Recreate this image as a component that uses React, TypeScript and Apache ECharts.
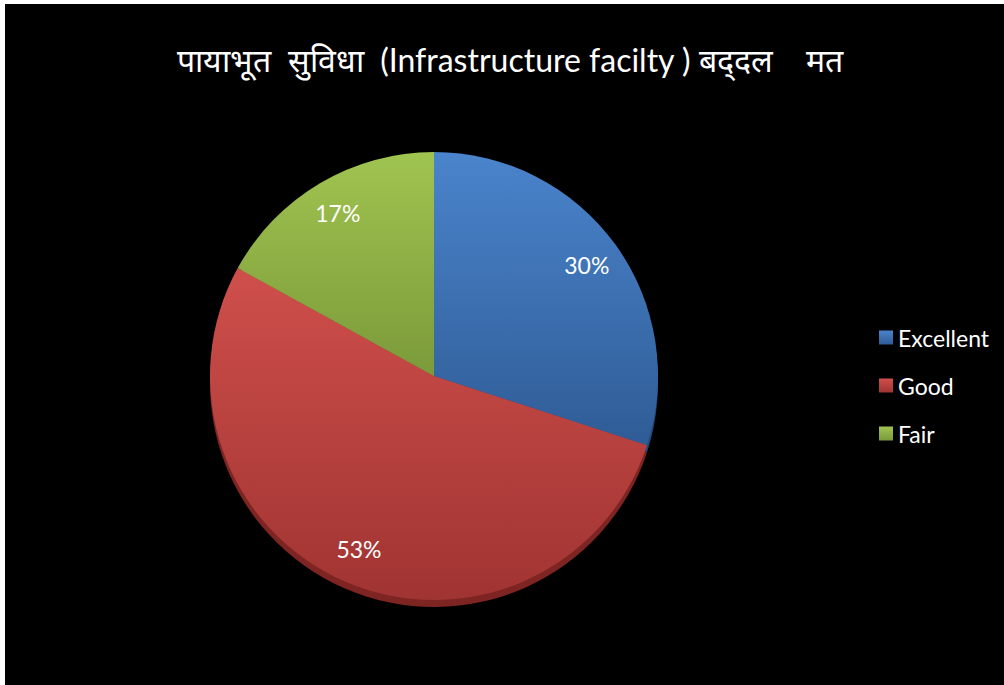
import React, { useEffect, useRef } from "react";
import * as echarts from "echarts";

const titleText = "पायाभूत  सुविधा  (Infrastructure facilty ) बद्\u200Cदल    मत";
const categories = ["Excellent", "Good", "Fair"];
const values = [30, 53, 17];
const topColors = ["#4a84cc", "#cf4f4b", "#a0c450"];
const bottomColors = ["#2f5c96", "#a03432", "#7b9a3a"];
const edgeColors = ["#24487a", "#7e2422", "#5f782c"];

export default function App() {
  const ref = useRef<HTMLDivElement>(null);
  useEffect(() => {
    document.body.style.margin = "0";
    const chart = echarts.init(ref.current!, undefined, { renderer: "svg" });
    const font = "Lato, 'Open Sans', sans-serif";
    const center = [434, 376];
    const R = 224;
    const data = categories.map((name, i) => ({
      name,
      value: values[i],
      itemStyle: {
        color: new echarts.graphic.LinearGradient(0, 0, 0, 1, [
          { offset: 0, color: topColors[i] },
          { offset: 1, color: bottomColors[i] },
        ]),
      },
    }));
    chart.setOption({
      animation: false,
      backgroundColor: "#000",
      title: {
        text: titleText,
        left: 505,
        textAlign: "center",
        top: 38,
        textStyle: { color: "#fff", fontSize: 32, fontWeight: "normal", fontFamily: font },
      },
      legend: {
        orient: "vertical",
        left: 874,
        top: 321,
        itemWidth: 14,
        itemHeight: 14,
        itemGap: 25,
        icon: "rect",
        data: categories,
        textStyle: { color: "#fff", fontSize: 23, fontFamily: font, padding: [0, 0, 0, 0] },
      },
      graphic: [
        { type: "rect", shape: { x: 0, y: 0, width: 5, height: 685 }, style: { fill: "#fff" }, silent: true },
        { type: "rect", shape: { x: 0, y: 0, width: 1004, height: 4 }, style: { fill: "#fff" }, silent: true },
      ],
      series: [
        {
          type: "pie",
          center: [center[0], center[1] + 7],
          radius: R,
          startAngle: 90,
          clockwise: true,
          silent: true,
          label: { show: false },
          labelLine: { show: false },
          itemStyle: { borderWidth: 0 },
          data: categories.map((name, i) => ({ name: name + "_edge", value: values[i], itemStyle: { color: edgeColors[i] } })),
          legendHoverLink: false,
        },
        {
          type: "pie",
          center,
          radius: R,
          startAngle: 90,
          clockwise: true,
          label: { show: false },
          labelLine: { show: false },
          itemStyle: { borderWidth: 0 },
          data,
        },
        {
          type: "pie",
          center,
          radius: [R * 0.66, R],
          startAngle: 90,
          clockwise: true,
          silent: true,
          itemStyle: { color: "transparent", borderWidth: 0 },
          label: {
            show: true,
            position: "inside",
            formatter: (p: any) => Math.round(p.percent) + "%",
            color: "#fff",
            fontSize: 23,
            fontFamily: font,
          },
          labelLine: { show: false },
          data: categories.map((name, i) => ({ name: name + "_lbl", value: values[i] })),
        },
      ],
    });
    return () => chart.dispose();
  }, []);
  return <div ref={ref} style={{ width: 1004, height: 685 }} />;
}
